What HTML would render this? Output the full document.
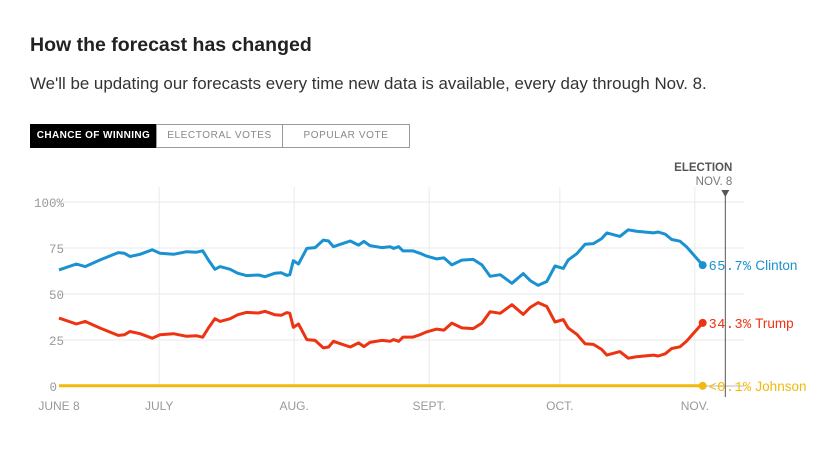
<!DOCTYPE html>
<html><head><meta charset="utf-8">
<style>
body{margin:0;background:#fff;width:839px;height:472px;overflow:hidden;font-family:"Liberation Sans",sans-serif}
#title{position:absolute;left:30px;top:34px;font-size:19.5px;font-weight:bold;color:#222;margin:0;white-space:nowrap}
#sub{position:absolute;left:30px;top:74px;font-size:16.9px;color:#333;margin:0;white-space:nowrap}
.tab{position:absolute;top:124px;height:24px;box-sizing:border-box;border:1px solid #999;font-size:10px;letter-spacing:0.6px;text-align:center;line-height:22px;color:#888;white-space:nowrap;overflow:hidden;font-family:"Liberation Sans",sans-serif}
</style></head><body>
<h1 id="title">How the forecast has changed</h1>
<p id="sub">We'll be updating our forecasts every time new data is available, every day through Nov. 8.</p>
<div class="tab" style="left:30px;width:127px;background:#000;color:#fff;border-color:#000;font-weight:bold;letter-spacing:0.4px">CHANCE OF WINNING</div>
<div class="tab" style="left:156px;width:127px">ELECTORAL VOTES</div>
<div class="tab" style="left:282px;width:128px">POPULAR VOTE</div>
<svg id="chart" width="839" height="472" style="position:absolute;left:0;top:0" xmlns="http://www.w3.org/2000/svg"></svg>
<script>
const clintonDays=[0,4,6,9.4,13.6,15,16.3,18.6,21.4,23.2,26.3,29.3,31.6,33,34.3,35.8,37,39.3,41,43,45.8,47.3,49.6,51,52.3,53,53.8,55,56.9,58.8,60.7,61.9,63,64.6,66.9,68.8,70,71.4,74.2,76,76.8,78,79,81.3,82.9,84.4,86.7,88.4,90.2,92.5,95.1,97.1,99,101.3,104,106.6,108.2,110,112,113.9,115.8,116.9,118.9,120.8,122.7,124.6,125.8,128.8,130.7,132.6,136.5,137.6,139.2,140.7,142.6,144.1,147.8];
const clintonValues=[63.1,66.3,64.9,68.5,72.5,72.2,70.4,71.6,74,72.2,71.6,73,72.7,73.5,68.5,63.4,64.9,63.4,61.3,60,60.3,59.4,61.3,61.6,60.1,60.5,68.1,66.3,74.8,75.2,79.3,78.8,75.7,77,78.8,76.6,78.6,76.3,75.2,75.7,74.8,75.7,73.4,73.4,72.1,70.6,69.1,69.6,65.8,68.4,68.8,65.8,59.6,60.5,55.8,61.1,57.3,54.7,56.8,65.2,63.9,68.4,71.9,77,77.4,80.1,83.2,81.3,84.9,84.1,83.2,83.7,82.5,79.6,78.7,75.6,65.7];
const trumpValues=[36.9,33.7,35.1,31.5,27.5,27.8,29.6,28.4,26,27.8,28.4,27,27.3,26.5,31.5,36.6,35.1,36.6,38.7,40,39.7,40.6,38.7,38.4,39.9,39.5,31.9,33.7,25.2,24.8,20.7,21.2,24.3,23,21.2,23.4,21.4,23.7,24.8,24.3,25.2,24.3,26.6,26.6,27.9,29.4,30.9,30.4,34.2,31.6,31.2,34.2,40.4,39.5,44.2,38.9,42.7,45.3,43.2,34.8,36.1,31.6,28.1,23,22.6,19.9,16.8,18.7,15.1,15.9,16.8,16.3,17.5,20.4,21.3,24.4,34.3];
const johnsonDays=[0,147.8];
const johnsonValues=[0.1,0.1];
const yTicks=[0,25,50,75,100];
const yTickLabels=["0","25","50","75","100%"];
const xTickDays=[0,23,54,85,115,146];
const xTickLabels=["JUNE 8","JULY","AUG.","SEPT.","OCT.","NOV."];
const electionDay=153;

const svg=document.getElementById('chart');
const NS='http://www.w3.org/2000/svg';
const x=d=>59+d*4.355;
const y=v=>386-v*1.84;
function mk(t,a,parent){const e=document.createElementNS(NS,t);for(const k in a)e.setAttribute(k,a[k]);(parent||svg).appendChild(e);return e;}
yTicks.forEach((t,i)=>{
  const g=mk('line',{x1:59,x2:744,y1:y(t),y2:y(t),stroke:t===0?'#bbb':'#eaeaea','stroke-width':1});
  
  
  const l=mk('text',{x:t===0?57:64,y:y(t)+5,'text-anchor':'end','font-size':12.5,fill:'#999','font-family':'Liberation Mono, monospace'});
  l.textContent=yTickLabels[i];
  
  
});
xTickDays.forEach((d,i)=>{
  if(i>0){const g=mk('line',{x1:x(d),x2:x(d),y1:187,y2:386,stroke:'#eaeaea'});
  
  }
  const l=mk('text',{x:x(d),y:410,'text-anchor':'middle','font-size':12,fill:'#999'});
  l.textContent=xTickLabels[i];
  
  
});
const ex=x(electionDay);
const el=mk('line',{x1:ex,x2:ex,y1:195,y2:397,stroke:'#555','stroke-width':1});


const tri=mk('path',{d:`M${ex-4},190 L${ex+4},190 L${ex},197 Z`,fill:'#555'});


const et=mk('text',{x:ex+7,y:171,'text-anchor':'end','font-size':11.5,'font-weight':'bold',fill:'#555'});
et.textContent='ELECTION';


const en=mk('text',{x:ex+7,y:185,'text-anchor':'end','font-size':11.5,fill:'#777'});
en.textContent='NOV. 8';


function series(days,vals,color,name,num,label){
  const d=days.map((dd,i)=>(i?'L':'M')+x(dd).toFixed(1)+','+y(vals[i]).toFixed(1)).join(' ');
  const p=mk('path',{d:d,fill:'none',stroke:color,'stroke-width':3,'stroke-linejoin':'round'});
  
  
  const ld=days[days.length-1],lv=vals[vals.length-1];
  const c=mk('circle',{cx:x(ld),cy:y(lv),r:4,fill:color});
  
  
  const t=mk('text',{x:x(ld)+6,y:y(lv)+5,'font-size':13.5,fill:color,'font-family':'Liberation Mono, monospace','letter-spacing':'0.5'});
  t.textContent=num;
  
  
  const t2=mk('tspan',{'font-family':'Liberation Sans, sans-serif','font-size':13.5,'letter-spacing':'0'},t);
  t2.textContent=' '+label;
}
series(johnsonDays,johnsonValues,'#f2b80f','johnson','<0.1%','Johnson');
series(clintonDays,trumpValues,'#ec3312','trump',trumpValues[trumpValues.length-1]+'%','Trump');
series(clintonDays,clintonValues,'#1a91d0','clinton',clintonValues[clintonValues.length-1]+'%','Clinton');
</script>
</body></html>
